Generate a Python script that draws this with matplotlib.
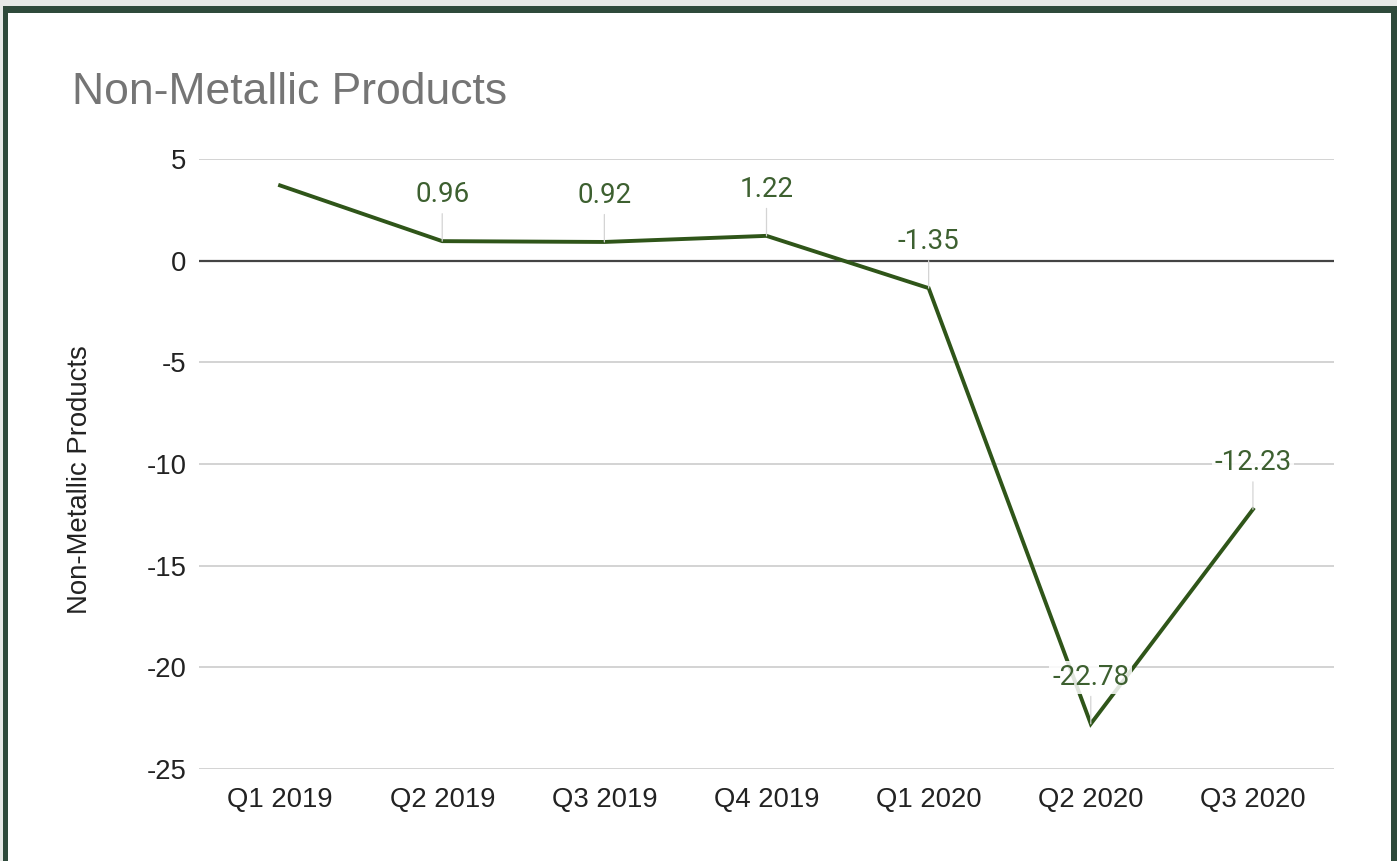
import matplotlib
matplotlib.use("Agg")
import matplotlib.pyplot as plt
from matplotlib.patches import Rectangle

categories = ["Q1 2019", "Q2 2019", "Q3 2019", "Q4 2019", "Q1 2020", "Q2 2020", "Q3 2020"]
values = [3.70, 0.96, 0.92, 1.22, -1.35, -22.78, -12.23]
labels = [None, "0.96", "0.92", "1.22", "-1.35", "-22.78", "-12.23"]
yticks = [5, 0, -5, -10, -15, -20, -25]

W, H = 1397, 861
fig = plt.figure(figsize=(W / 100, H / 100), dpi=100)
fig.patch.set_facecolor("#e6e9e7")
fig.patches.append(Rectangle((3 / W, 0), (W - 3) / W, (H - 6) / H, transform=fig.transFigure,
                             facecolor="#2e4a3b", edgecolor="none", zorder=-10))
fig.patches.append(Rectangle((8 / W, 0), (1391 - 8) / W, (H - 13) / H, transform=fig.transFigure,
                             facecolor="white", edgecolor="none", zorder=-9))

left, right, top, bottom = 199, 1334, 159, 769
ax = fig.add_axes([left / W, 1 - bottom / H, (right - left) / W, (bottom - top) / H])
ax.set_facecolor("none")

x = list(range(len(categories)))
ax.plot(x, values, color="#2f5519", lw=2.8, zorder=3, solid_joinstyle="miter")

ax.set_xlim(-0.5, len(categories) - 0.5)
ax.set_ylim(-25, 5)
ax.set_yticks(yticks)
ax.set_yticklabels([str(t) for t in yticks])
ax.set_xticks(x)
ax.set_xticklabels(categories)

for t in yticks:
    if t == 0:
        ax.axhline(t, color="#444444", lw=1.6, zorder=2)
    else:
        ax.axhline(t, color="#cccccc", lw=1.2, zorder=1)

for s in ax.spines.values():
    s.set_visible(False)
ax.tick_params(axis="both", length=0, labelsize=19.8, labelcolor="#222222")
ax.tick_params(axis="x", pad=13)
ax.tick_params(axis="y", pad=9)
for lab in ax.get_xticklabels() + ax.get_yticklabels():
    lab.set_family("Liberation Sans")

ax.set_ylabel("Non-Metallic Products", fontsize=19.8, family="Liberation Sans", color="#222222")
ax.yaxis.set_label_coords(-0.0934, 0.474)

for i, (v, lab) in enumerate(zip(values, labels)):
    if lab is None:
        continue
    ax.annotate(lab, xy=(i, v), xytext=(0, 33.5), textcoords="offset points",
                ha="center", va="center", fontsize=20, family="Roboto", color="#3d6030",
                bbox=dict(boxstyle="square,pad=0.1", facecolor="white", edgecolor="none", alpha=0.85),
                arrowprops=dict(arrowstyle="-", color="#d4d4d4", lw=0.9, shrinkA=2, shrinkB=0),
                zorder=4)

fig.text(72 / W, 1 - 93 / H, "Non-Metallic Products", fontsize=32, family="Liberation Sans",
         color="#757575", ha="left", va="center")

fig.savefig("out.png", dpi=100, facecolor=fig.get_facecolor())
